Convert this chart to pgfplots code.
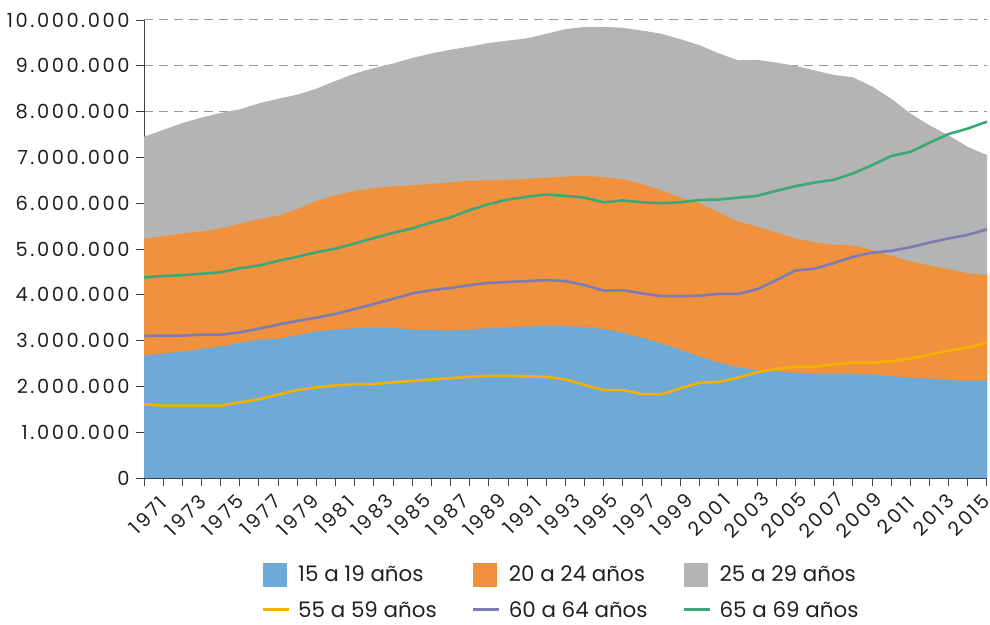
\documentclass[border=0pt]{standalone}
\usepackage{fontspec}
\setmainfont{Poppins}
\newfontfamily\tickfont{Poppins}[LetterSpace=13]
\usepackage{pgfplots}
\pgfplotsset{compat=1.18}
\usepackage{pgfplotstable}
\definecolor{cBlue}{RGB}{111,170,214}
\definecolor{cOrange}{RGB}{240,145,62}
\definecolor{cGray}{RGB}{180,180,180}
\definecolor{cYellow}{RGB}{245,176,0}
\definecolor{cPurple}{RGB}{124,123,178}
\definecolor{cGreen}{RGB}{60,168,120}
\definecolor{cText}{RGB}{35,31,32}
% cumulative tops of the stacked areas and the three lines
\pgfplotstableread{
year top1519 top2024 total l55 l60 l65
1971 2670000 5220000 7450000 1610000 3100000 4380000
1972 2720000 5280000 7600000 1580000 3110000 4410000
1973 2760000 5340000 7750000 1580000 3110000 4430000
1974 2820000 5380000 7870000 1580000 3130000 4460000
1975 2870000 5450000 7970000 1580000 3130000 4490000
1976 2950000 5550000 8050000 1650000 3180000 4580000
1977 3020000 5650000 8180000 1720000 3260000 4640000
1978 3040000 5730000 8280000 1820000 3350000 4740000
1979 3120000 5870000 8370000 1920000 3430000 4830000
1980 3200000 6050000 8500000 1980000 3500000 4930000
1981 3240000 6170000 8670000 2020000 3580000 5010000
1982 3270000 6270000 8830000 2050000 3690000 5120000
1983 3290000 6330000 8950000 2050000 3800000 5240000
1984 3280000 6370000 9050000 2090000 3910000 5350000
1985 3240000 6390000 9170000 2120000 4030000 5450000
1986 3230000 6420000 9270000 2150000 4100000 5580000
1987 3220000 6460000 9350000 2180000 4150000 5690000
1988 3240000 6490000 9420000 2210000 4210000 5850000
1989 3270000 6500000 9500000 2230000 4260000 5980000
1990 3290000 6510000 9550000 2230000 4280000 6080000
1991 3310000 6530000 9600000 2220000 4300000 6140000
1992 3330000 6560000 9700000 2210000 4320000 6190000
1993 3320000 6580000 9800000 2150000 4300000 6160000
1994 3300000 6600000 9850000 2030000 4210000 6120000
1995 3250000 6570000 9850000 1920000 4090000 6020000
1996 3170000 6520000 9830000 1920000 4100000 6060000
1997 3060000 6420000 9770000 1830000 4030000 6020000
1998 2940000 6280000 9700000 1830000 3970000 6000000
1999 2800000 6120000 9580000 1960000 3970000 6020000
2000 2650000 6000000 9450000 2080000 3980000 6070000
2001 2520000 5800000 9270000 2100000 4020000 6080000
2002 2420000 5600000 9120000 2190000 4020000 6120000
2003 2360000 5490000 9130000 2310000 4120000 6160000
2004 2330000 5360000 9070000 2380000 4320000 6270000
2005 2290000 5230000 9000000 2430000 4530000 6370000
2006 2280000 5150000 8900000 2430000 4570000 6450000
2007 2280000 5090000 8800000 2480000 4690000 6510000
2008 2280000 5080000 8750000 2520000 4830000 6650000
2009 2260000 4980000 8550000 2520000 4920000 6830000
2010 2220000 4850000 8280000 2550000 4960000 7030000
2011 2190000 4730000 7960000 2610000 5040000 7120000
2012 2170000 4640000 7700000 2690000 5140000 7320000
2013 2140000 4560000 7480000 2780000 5230000 7510000
2014 2120000 4470000 7230000 2850000 5310000 7630000
2015 2130000 4430000 7050000 2950000 5430000 7780000
}\datatable

\begin{document}
\begin{tikzpicture}
\useasboundingbox (0,0) rectangle (990bp,625bp);
\begin{axis}[
  at={(144bp,147bp)}, anchor=south west,
  scale only axis, width=843bp, height=458bp,
  xmin=1971, xmax=2015, ymin=0, ymax=10000000,
  axis lines*=left,
  axis line style={draw=black!75, line width=1bp},
  xtick={1971,1972,...,2015},
  xticklabels={},
  extra x ticks={1971.21,1973.16,1975.11,1977.07,1979.02,1980.97,1982.92,1984.87,1986.83,1988.78,1990.73,1992.68,1994.63,1996.59,1998.54,2000.49,2002.44,2004.39,2006.35,2008.30,2010.25,2012.20,2014.05},
  extra x tick labels={1971,1973,1975,1977,1979,1981,1983,1985,1987,1989,1991,1993,1995,1997,1999,2001,2003,2005,2007,2009,2011,2013,2015},
  extra x tick style={major tick length=0pt,
    xticklabel style={yshift=-37bp, rotate=45, anchor=center, inner sep=1bp}},
  ytick={0,1000000,...,10000000},
  tick align=outside,
  major tick length=8bp,
  every tick/.style={black!75, line width=0.9bp},
  scaled y ticks=false,
  /pgf/number format/assume math mode=true,
  y tick label style={/pgf/number format/fixed, /pgf/number format/1000 sep={.}, xshift=-3bp},
  ymajorgrids,
  grid style={draw=black!40, line width=1bp, dash pattern=on 9bp off 6bp},
  tick label style={font=\tickfont\fontsize{19.5}{21}\selectfont, text=cText},
  legend columns=3,
  legend cell align=left,
  legend style={at={(0.4945,-0.185)}, anchor=north, draw=none, fill=none,
    font=\fontsize{21.5}{24}\selectfont, text=cText, inner sep=0pt,
    row sep=13bp,
    /tikz/every odd column/.append style={column sep=6bp},
    /tikz/every even column/.append style={column sep=33bp}},
]
\addlegendimage{legend image code/.code={\fill[cBlue] (0bp,-11.5bp) rectangle (23bp,11.5bp);}}
\addlegendentry{15 a 19 años}
\addlegendimage{legend image code/.code={\fill[cOrange] (0bp,-11.5bp) rectangle (23bp,11.5bp);}}
\addlegendentry{20 a 24 años}
\addlegendimage{legend image code/.code={\fill[cGray] (0bp,-11.5bp) rectangle (23bp,11.5bp);}}
\addlegendentry{25 a 29 años}
\addlegendimage{legend image code/.code={\draw[cYellow, line width=3bp] (0bp,0bp) -- (26bp,0bp);}}
\addlegendentry{55 a 59 años}
\addlegendimage{legend image code/.code={\draw[cPurple, line width=3bp] (0bp,0bp) -- (26bp,0bp);}}
\addlegendentry{60 a 64 años}
\addlegendimage{legend image code/.code={\draw[cGreen, line width=3bp] (0bp,0bp) -- (26bp,0bp);}}
\addlegendentry{65 a 69 años}

\addplot[draw=none, fill=cGray, forget plot] table[x=year, y=total] {\datatable} \closedcycle;
\addplot[draw=none, fill=cOrange, forget plot] table[x=year, y=top2024] {\datatable} \closedcycle;
\addplot[draw=none, fill=cBlue, forget plot] table[x=year, y=top1519] {\datatable} \closedcycle;
\addplot[cYellow, line width=2.6bp, forget plot] table[x=year, y=l55] {\datatable};
\addplot[cPurple, line width=2.6bp, forget plot] table[x=year, y=l60] {\datatable};
\addplot[cGreen, line width=2.6bp, forget plot] table[x=year, y=l65] {\datatable};
\end{axis}
\end{tikzpicture}
\end{document}
